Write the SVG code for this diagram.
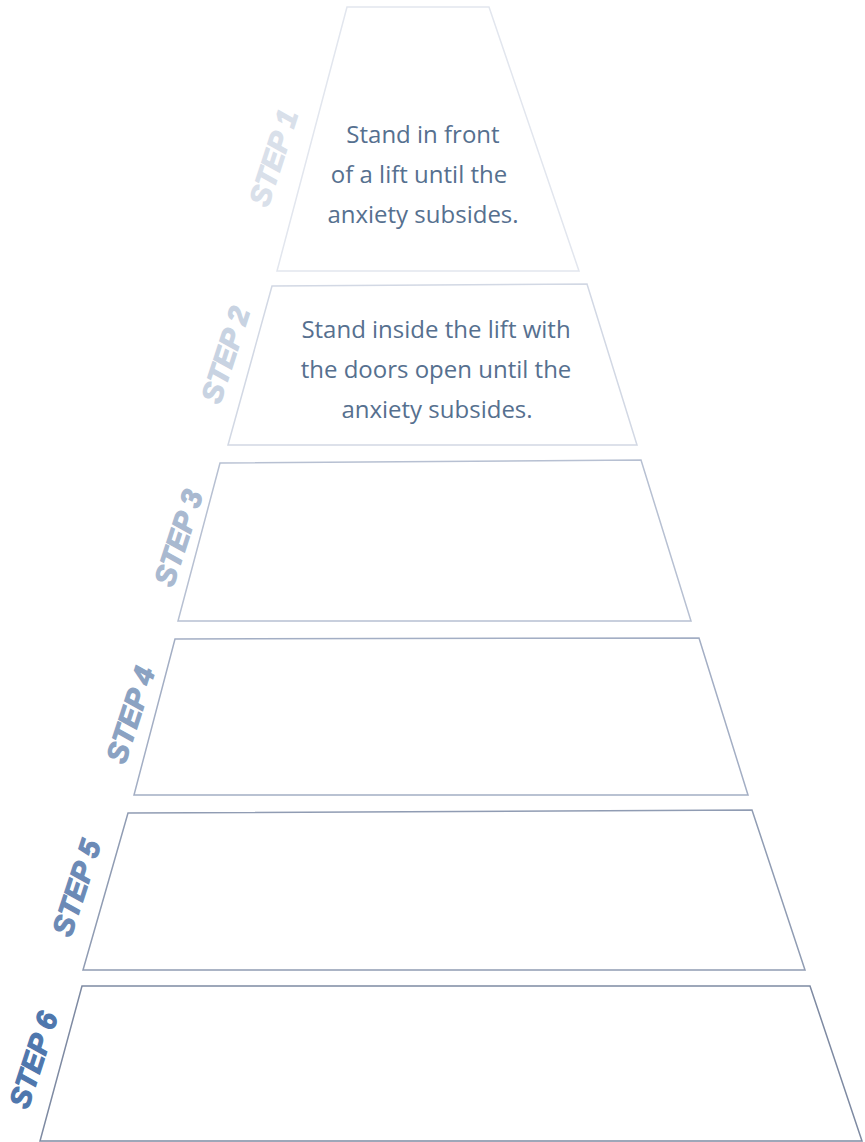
<svg xmlns="http://www.w3.org/2000/svg" width="865" height="1142" viewBox="0 0 865 1142">
<style>
.tr{fill:#ffffff;stroke-width:1.5;stroke-linejoin:miter}
.lbl{font-family:"Liberation Sans",Arial,sans-serif;font-weight:bold;font-style:italic;font-size:29px;text-anchor:middle;stroke-width:1.2}
.body{font-family:"Open Sans","Noto Sans",sans-serif;font-size:24px;fill:#56708f;text-anchor:middle}
</style>
<rect width="865" height="1142" fill="#ffffff"/>
<g id="step1">
<polygon class="tr" stroke="#e2e6ee" points="347,7 489,7 579,271 277,271"/>
<text class="lbl" fill="#d9e0ea" stroke="#d9e0ea" transform="translate(283,161) rotate(-72)">STEP 1</text>
<text class="body" x="423" y="143">Stand in front</text>
<text class="body" x="419" y="183">of a lift until the</text>
<text class="body" x="423" y="223">anxiety subsides.</text>
</g>
<g id="step2">
<polygon class="tr" stroke="#d2d8e4" points="272,286 587,284 637,445 228,445"/>
<text class="lbl" fill="#c8d3e2" stroke="#c8d3e2" transform="translate(235,358) rotate(-72)">STEP 2</text>
<text class="body" x="436" y="338">Stand inside the lift with</text>
<text class="body" x="436" y="378">the doors open until the</text>
<text class="body" x="437" y="418">anxiety subsides.</text>
</g>
<g id="step3">
<polygon class="tr" stroke="#b7c0d2" points="220,463 641,460 691,621 178,621"/>
<text class="lbl" fill="#a9b9d0" stroke="#a9b9d0" transform="translate(188,541) rotate(-72)">STEP 3</text>
</g>
<g id="step4">
<polygon class="tr" stroke="#a3aec4" points="175,639 699,638 748,795 134,795"/>
<text class="lbl" fill="#8ba2c2" stroke="#8ba2c2" transform="translate(140,718) rotate(-72)">STEP 4</text>
</g>
<g id="step5">
<polygon class="tr" stroke="#909cb3" points="128,813 752,810 805,970 83,970"/>
<text class="lbl" fill="#6c8ab6" stroke="#6c8ab6" transform="translate(86,891) rotate(-72)">STEP 5</text>
</g>
<g id="step6">
<polygon class="tr" stroke="#7e8aa2" points="82,986 810,986 862,1141 40,1141"/>
<text class="lbl" fill="#4f77ad" stroke="#4f77ad" transform="translate(43,1063) rotate(-72)">STEP 6</text>
</g>
</svg>
